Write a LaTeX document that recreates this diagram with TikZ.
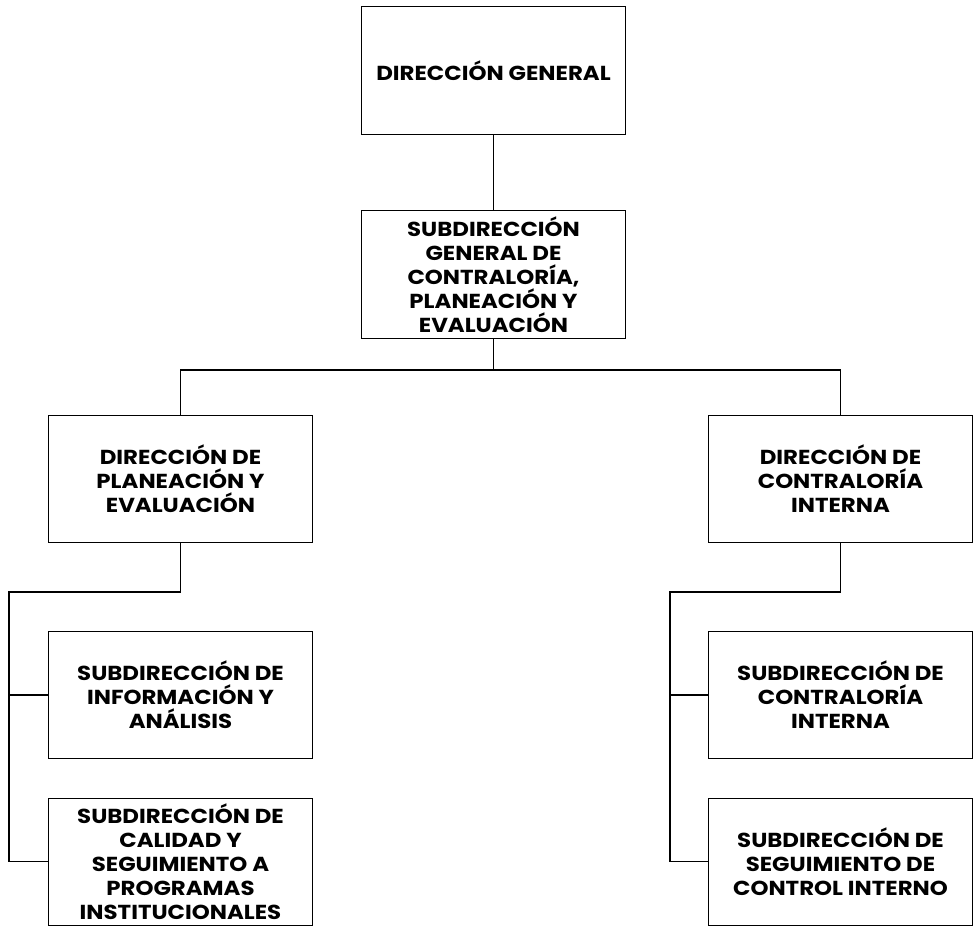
\documentclass[tikz,border=0pt]{standalone}
\usepackage{fontspec}
\setmainfont{Poppins}[BoldFeatures={FakeStretch=1.13}]
\usetikzlibrary{positioning}

\tikzset{
  unidad/.style={draw=black, line width=0.7pt, rectangle, align=center,
    minimum width=6.6cm, minimum height=3.175cm, inner sep=0pt,
    font=\fontsize{14.4}{17}\selectfont\bfseries},
  enlace/.style={line width=1.1pt, color=black},
}

\begin{document}
\begin{tikzpicture}[x=0.025cm, y=-0.025cm]
\useasboundingbox (0,0) rectangle (973,930);

% nivel 1 y 2
\node[unidad] (dg) at (493.5,70.5) {DIRECCIÓN GENERAL};
\node[unidad] (sg) at (493.5,274.5) {SUBDIRECCIÓN\\GENERAL DE\\CONTRALORÍA,\\PLANEACIÓN Y\\EVALUACIÓN};

% direcciones
\node[unidad] (dp) at (180.5,479) {DIRECCIÓN DE\\PLANEACIÓN Y\\EVALUACIÓN};
\node[unidad] (dc) at (840.5,479) {DIRECCIÓN DE\\CONTRALORÍA\\INTERNA};

% subdirecciones
\node[unidad] (si) at (180.5,695) {SUBDIRECCIÓN DE\\INFORMACIÓN Y\\ANÁLISIS};
\node[unidad] (sc) at (180.5,861.5) {SUBDIRECCIÓN DE\\CALIDAD Y\\SEGUIMIENTO A\\PROGRAMAS\\INSTITUCIONALES};
\node[unidad] (ci) at (840.5,695) {SUBDIRECCIÓN DE\\CONTRALORÍA\\INTERNA};
\node[unidad] (cs) at (840.5,861.5) {SUBDIRECCIÓN DE\\SEGUIMIENTO DE\\CONTROL INTERNO};

\coordinate (jt) at (493.5,370);
\coordinate (jl) at (180.5,592);
\coordinate (jlx) at (9,592);
\coordinate (jr) at (840.5,592);
\coordinate (jrx) at (670,592);

\draw[enlace] (dg) -- (sg);
\draw[enlace] (sg.south) -- (jt) -| (dp.north);
\draw[enlace] (jt) -| (dc.north);

\draw[enlace] (dp.south) -- (jl) -- (jlx) |- (sc.west);
\draw[enlace] (jlx) |- (si.west);

\draw[enlace] (dc.south) -- (jr) -- (jrx) |- (cs.west);
\draw[enlace] (jrx) |- (ci.west);
\end{tikzpicture}
\end{document}
